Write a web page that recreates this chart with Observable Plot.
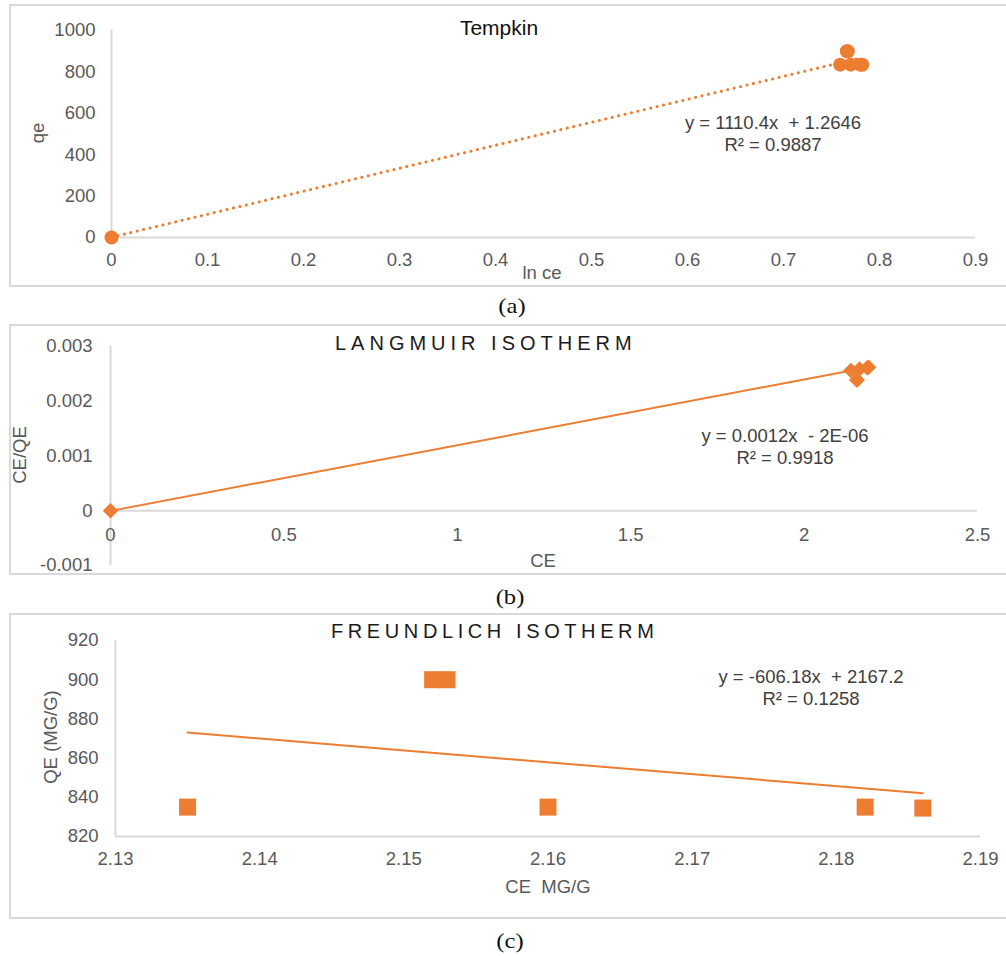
<!DOCTYPE html>
<html>
<head>
<meta charset="utf-8">
<script src="https://cdn.jsdelivr.net/npm/d3@7"></script>
<script src="https://cdn.jsdelivr.net/npm/@observablehq/plot@0.6"></script>
<style>
  body { margin: 0; background: #fff; }
  #page { position: relative; width: 1006px; height: 956px; overflow: hidden; background: #fff; }
  .box { position: absolute; box-sizing: border-box; border: 2px solid #d9d9d9; }
  .lbl { position: absolute; white-space: pre; line-height: 1; font-family: "Liberation Sans", Arial, sans-serif; }
  .svgwrap { position: absolute; left: 0; }
  .svgwrap svg { display: block; overflow: visible; }
</style>
</head>
<body>
<div id="page"></div>
<script>
// ---------- data ----------
// (a) Tempkin
const tempkinLnCe = [0, 0.759, 0.766, 0.767, 0.770, 0.780, 0.782];
const tempkinQe   = [0, 835, 900, 900, 835, 835, 834.5];
const tempkinXTicks = [0, 0.1, 0.2, 0.3, 0.4, 0.5, 0.6, 0.7, 0.8, 0.9];
const tempkinYTicks = [0, 200, 400, 600, 800, 1000];
const tempkinSlope = 1110.4, tempkinIntercept = 1.2646;

// (b) Langmuir
const langCe   = [0, 2.135, 2.152, 2.153, 2.16, 2.182, 2.186];
const langCeQe = [0, 0.00256, 0.00239, 0.00239, 0.00259, 0.00261, 0.00262];
const langXTicks = [0, 0.5, 1, 1.5, 2, 2.5];
const langYTicks = [-0.001, 0, 0.001, 0.002, 0.003];
const langSlope = 0.0012, langIntercept = -0.000002;

// (c) Freundlich
const freCe = [2.135, 2.152, 2.153, 2.16, 2.182, 2.186];
const freQe = [835, 900, 900, 835, 835, 834.5];
const freXTicks = [2.13, 2.14, 2.15, 2.16, 2.17, 2.18, 2.19];
const freYTicks = [820, 840, 860, 880, 900, 920];
const freSlope = -606.18, freIntercept = 2167.2;

// ---------- helpers ----------
const orange = "#ED7D31";
const axisColor = "#d9d9d9";
const baseStyle = {fontFamily: '"Liberation Sans", Arial, sans-serif', fontSize: "18.5px", color: "#595959", background: "transparent", overflow: "visible"};
const page = document.getElementById("page");
const rows = (xs, ys) => xs.map((x, i) => ({x, y: ys[i]}));
const trend = (xs, m, b) => d3.extent(xs).map(x => ({x, y: m * x + b}));
const fmt = d => String(d);
const serif = '"Liberation Serif", "Times New Roman", serif';

function box(top, height) {
  const d = document.createElement("div");
  d.className = "box";
  Object.assign(d.style, {left: "9px", top: top + "px", width: "1010px", height: height + "px"});
  page.appendChild(d);
}
function mount(svg, top) {
  const w = document.createElement("div");
  w.className = "svgwrap";
  w.style.top = top + "px";
  w.appendChild(svg);
  page.appendChild(w);
}
function label(text, x, y, opts = {}) {
  const d = document.createElement("div");
  d.className = "lbl";
  d.textContent = text;
  const rot = opts.rotate ? ` rotate(${opts.rotate}deg)` : "";
  const sx = opts.scaleX ? ` scaleX(${opts.scaleX})` : "";
  const tx = opts.left ? "0" : "-50%";
  Object.assign(d.style, {
    left: x + "px", top: y + "px",
    transform: `translate(${tx},-50%)${rot}${sx}`,
    fontSize: (opts.size || 18.5) + "px",
    color: opts.color || "#595959",
    letterSpacing: opts.spacing ? opts.spacing + "px" : "normal",
    fontFamily: opts.family || '"Liberation Sans", Arial, sans-serif',
    lineHeight: opts.lineHeight ? opts.lineHeight + "px" : "1",
    textAlign: "center"
  });
  page.appendChild(d);
}

// ---------- frames ----------
box(4, 283);
box(324, 251);
box(613, 306);

// ---------- (a) Tempkin ----------
mount(Plot.plot({
  width: 1006, height: 290,
  marginTop: 30, marginBottom: 53, marginLeft: 111, marginRight: 31,
  x: {domain: [0, 0.9]}, y: {domain: [0, 1000]},
  style: baseStyle,
  marks: [
    Plot.ruleY([0], {stroke: axisColor, strokeWidth: 2}),
    Plot.ruleX([0], {stroke: axisColor, strokeWidth: 2}),
    Plot.axisX({ticks: tempkinXTicks, tickSize: 0, tickPadding: 15, tickFormat: fmt, label: null}),
    Plot.axisY({ticks: tempkinYTicks, tickSize: 0, tickPadding: 16, tickFormat: fmt, label: null}),
    Plot.line(trend(tempkinLnCe, tempkinSlope, tempkinIntercept), {x: "x", y: "y", stroke: orange, strokeWidth: 3, strokeDasharray: "0.1 6.5", strokeLinecap: "round"}),
    Plot.dot(rows(tempkinLnCe, tempkinQe), {x: "x", y: "y", r: 7, fill: orange})
  ]
}), 0);
label("Tempkin", 499, 27, {size: 21, color: "#111"});
label("qe", 38, 133, {rotate: -90});
label("ln ce", 542, 273);
label("y = 1110.4x  + 1.2646\nR² = 0.9887", 773, 134, {color: "#404040", lineHeight: 22});
label("(a)", 512, 306, {size: 22, color: "#111", family: serif, scaleX: 1.12});

// ---------- (b) Langmuir ----------
mount(Plot.plot({
  width: 1006, height: 260,
  marginTop: 26, marginBottom: 15, marginLeft: 110, marginRight: 29,
  x: {domain: [0, 2.5], axis: null}, y: {domain: [-0.001, 0.003]},
  style: baseStyle,
  marks: [
    Plot.ruleY([0], {stroke: axisColor, strokeWidth: 2}),
    Plot.ruleX([0], {stroke: axisColor, strokeWidth: 2}),
    Plot.axisY({ticks: langYTicks, tickSize: 0, tickPadding: 18, tickFormat: fmt, label: null}),
    Plot.text(langXTicks, {x: d => d, y: () => 0, dy: 24, text: fmt, fill: "#595959"}),
    Plot.line(trend(langCe, langSlope, langIntercept), {x: "x", y: "y", stroke: orange, strokeWidth: 2}),
    Plot.dot(rows(langCe, langCeQe), {x: "x", y: "y", symbol: "diamond2", r: 7, fill: orange})
  ]
}), 320);
label("LANGMUIR ISOTHERM", 335, 343, {size: 20, color: "#1a1a1a", spacing: 5, left: true});
label("CE/QE", 20, 455, {rotate: -90});
label("CE", 543, 561);
label("y = 0.0012x  - 2E-06\nR² = 0.9918", 785, 447, {color: "#404040", lineHeight: 22});
label("(b)", 510, 597, {size: 22, color: "#111", family: serif, scaleX: 1.12});

// ---------- (c) Freundlich ----------
mount(Plot.plot({
  width: 1006, height: 320,
  marginTop: 40, marginBottom: 84, marginLeft: 115, marginRight: 26,
  x: {domain: [2.13, 2.19]}, y: {domain: [820, 920]},
  style: baseStyle,
  marks: [
    Plot.ruleY([820], {stroke: axisColor, strokeWidth: 2}),
    Plot.ruleX([2.13], {stroke: axisColor, strokeWidth: 2}),
    Plot.axisX({ticks: freXTicks, tickSize: 0, tickPadding: 15, tickFormat: fmt, label: null}),
    Plot.axisY({ticks: freYTicks, tickSize: 0, tickPadding: 17, tickFormat: fmt, label: null}),
    Plot.line(trend(freCe, freSlope, freIntercept), {x: "x", y: "y", stroke: orange, strokeWidth: 2}),
    Plot.dot(rows(freCe, freQe), {x: "x", y: "y", symbol: "square", r: 9.6, fill: orange})
  ]
}), 600);
label("FREUNDLICH ISOTHERM", 331, 631, {size: 20, color: "#1a1a1a", spacing: 4.6, left: true});
label("QE (MG/G)", 51, 737, {rotate: -90});
label("CE  MG/G", 548, 887);
label("y = -606.18x  + 2167.2\nR² = 0.1258", 811, 688, {color: "#404040", lineHeight: 22});
label("(c)", 510, 941, {size: 22, color: "#111", family: serif, scaleX: 1.12});
</script>
</body>
</html>
